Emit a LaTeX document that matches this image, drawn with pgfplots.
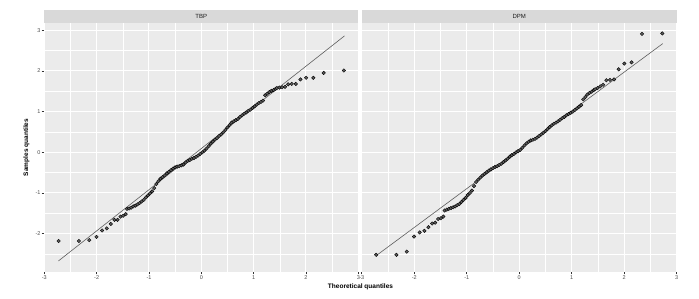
\documentclass[border=0pt]{standalone}
\usepackage{fontspec}
\setmainfont{Liberation Sans}
\usepackage{pgfplots}
\usepackage{pgfplotstable}
\pgfplotsset{compat=1.18}
\definecolor{panelbg}{HTML}{EBEBEB}
\definecolor{stripbg}{HTML}{D9D9D9}
\definecolor{ticklab}{HTML}{4D4D4D}
\definecolor{tickcol}{HTML}{333333}
\definecolor{pts}{HTML}{5E5E5E}
\definecolor{stripfg}{HTML}{1A1A1A}

\pgfplotstableread{
x y
-2.725 -2.18
-2.339 -2.18
-2.141 -2.16
-2.003 -2.08
-1.895 -1.92
-1.806 -1.87
-1.729 -1.76
-1.660 -1.66
-1.600 -1.66
-1.544 -1.58
-1.493 -1.56
-1.445 -1.52
-1.42 -1.39
-1.38 -1.38
-1.34 -1.36
-1.30 -1.33
-1.26 -1.31
-1.22 -1.28
-1.18 -1.25
-1.14 -1.21
-1.10 -1.17
-1.06 -1.11
-1.02 -1.06
-0.98 -1.01
-0.94 -0.96
-0.90 -0.88
-0.86 -0.78
-0.82 -0.71
-0.78 -0.65
-0.74 -0.61
-0.70 -0.57
-0.66 -0.52
-0.62 -0.48
-0.58 -0.44
-0.54 -0.40
-0.50 -0.37
-0.46 -0.35
-0.42 -0.34
-0.38 -0.32
-0.34 -0.30
-0.30 -0.25
-0.26 -0.21
-0.22 -0.19
-0.18 -0.16
-0.14 -0.14
-0.10 -0.11
-0.06 -0.08
-0.02 -0.04
0.02 0.00
0.06 0.04
0.10 0.09
0.14 0.15
0.18 0.21
0.22 0.26
0.26 0.31
0.30 0.35
0.34 0.40
0.38 0.44
0.42 0.49
0.46 0.55
0.50 0.61
0.54 0.67
0.58 0.73
0.62 0.76
0.66 0.79
0.70 0.82
0.74 0.87
0.78 0.91
0.82 0.95
0.86 0.98
0.90 1.02
0.94 1.05
0.98 1.09
1.02 1.13
1.06 1.17
1.10 1.21
1.14 1.24
1.18 1.27
1.22 1.40
1.26 1.44
1.30 1.48
1.34 1.51
1.38 1.53
1.42 1.56
1.445 1.58
1.493 1.59
1.544 1.60
1.600 1.61
1.660 1.67
1.729 1.68
1.806 1.68
1.895 1.79
2.003 1.83
2.141 1.83
2.339 1.95
2.725 2.01
}\tbp

\pgfplotstableread{
x y
-2.725 -2.52
-2.339 -2.52
-2.141 -2.44
-2.003 -2.07
-1.895 -1.97
-1.806 -1.93
-1.729 -1.84
-1.660 -1.75
-1.600 -1.73
-1.544 -1.64
-1.493 -1.62
-1.445 -1.58
-1.42 -1.43
-1.38 -1.41
-1.34 -1.39
-1.30 -1.37
-1.26 -1.35
-1.22 -1.33
-1.18 -1.30
-1.14 -1.27
-1.10 -1.22
-1.06 -1.17
-1.02 -1.12
-0.98 -1.05
-0.94 -1.00
-0.90 -0.94
-0.86 -0.83
-0.82 -0.73
-0.78 -0.67
-0.74 -0.62
-0.70 -0.57
-0.66 -0.53
-0.62 -0.49
-0.58 -0.45
-0.54 -0.42
-0.50 -0.39
-0.46 -0.36
-0.42 -0.34
-0.38 -0.31
-0.34 -0.28
-0.30 -0.24
-0.26 -0.20
-0.22 -0.16
-0.18 -0.11
-0.14 -0.07
-0.10 -0.04
-0.06 0.00
-0.02 0.03
0.02 0.06
0.06 0.11
0.10 0.17
0.14 0.22
0.18 0.26
0.22 0.29
0.26 0.31
0.30 0.33
0.34 0.36
0.38 0.40
0.42 0.44
0.46 0.48
0.50 0.52
0.54 0.57
0.58 0.62
0.62 0.66
0.66 0.70
0.70 0.73
0.74 0.76
0.78 0.80
0.82 0.84
0.86 0.87
0.90 0.91
0.94 0.94
0.98 0.97
1.02 1.00
1.06 1.04
1.10 1.08
1.14 1.12
1.18 1.16
1.22 1.30
1.26 1.36
1.30 1.42
1.34 1.46
1.38 1.49
1.42 1.53
1.445 1.55
1.493 1.58
1.544 1.62
1.600 1.66
1.660 1.77
1.729 1.78
1.806 1.79
1.895 2.04
2.003 2.18
2.141 2.21
2.339 2.91
2.725 2.92
}\dpm

\pgfplotsset{qqstyle/.style={
  scale only axis, height=248.4pt,
  xmin=-3, xmax=3, ymin=-2.934, ymax=3.170,
  axis background/.style={fill=panelbg},
  axis line style={draw=none},
  xtick={-3,-2,-1,0,1,2,3}, ytick={-2,-1,0,1,2,3},
  minor xtick={-2.5,-1.5,-0.5,0.5,1.5,2.5},
  minor ytick={-2.5,-1.5,-0.5,0.5,1.5,2.5},
  grid=both,
  major grid style={white, line width=1pt},
  minor grid style={white, line width=0.5pt},
  tick align=outside, major tick length=2.7pt, minor tick length=0pt,
  tick style={tickcol, line width=0.5pt},
  tick pos=left,
  ticklabel style={font=\fontsize{5.5}{6.5}\selectfont, text=ticklab},
  /pgf/number format/assume math mode=true,
  xticklabel style={inner sep=0.8pt},
  yticklabel style={inner sep=1pt},
  anchor=south west,
}}

\begin{document}
\begin{tikzpicture}
\useasboundingbox (0,0) rectangle (699pt,299pt);
\begin{axis}[qqstyle, name=L, at={(44.3pt,27.3pt)}, width=314pt]
\addplot[only marks, mark=*, mark size=1.75pt, mark options={draw=none, fill=pts}] table[x=x,y=y]{\tbp};
\addplot[pts, line width=0.6pt] coordinates {(-2.73,-2.67) (2.736,2.86)};
\end{axis}
\begin{axis}[qqstyle, name=R, at={(361.7pt,27.3pt)}, width=315pt,
  yticklabels={}, y tick style={draw=none}]
\addplot[only marks, mark=*, mark size=1.75pt, mark options={draw=none, fill=pts}] table[x=x,y=y]{\dpm};
\addplot[pts, line width=0.6pt] coordinates {(-2.714,-2.53) (2.733,2.67)};
\end{axis}
\fill[stripbg] (L.north west) rectangle ([yshift=13.3pt]L.north east);
\fill[stripbg] (R.north west) rectangle ([yshift=13.3pt]R.north east);
\node[font=\fontsize{6}{7}\selectfont, text=stripfg, inner sep=0pt] at ([yshift=6.65pt]L.north) {TBP};
\node[font=\fontsize{6}{7}\selectfont, text=stripfg, inner sep=0pt] at ([yshift=6.65pt]R.north) {DPM};
\node[font=\bfseries\fontsize{6.5}{7}\selectfont, inner sep=0pt] at (360.5pt,12.3pt) {Theoretical quantiles};
\node[font=\bfseries\fontsize{6.5}{7}\selectfont, inner sep=0pt, rotate=90] at (26.5pt,151.5pt) {Samples quantiles};
\end{tikzpicture}
\end{document}
